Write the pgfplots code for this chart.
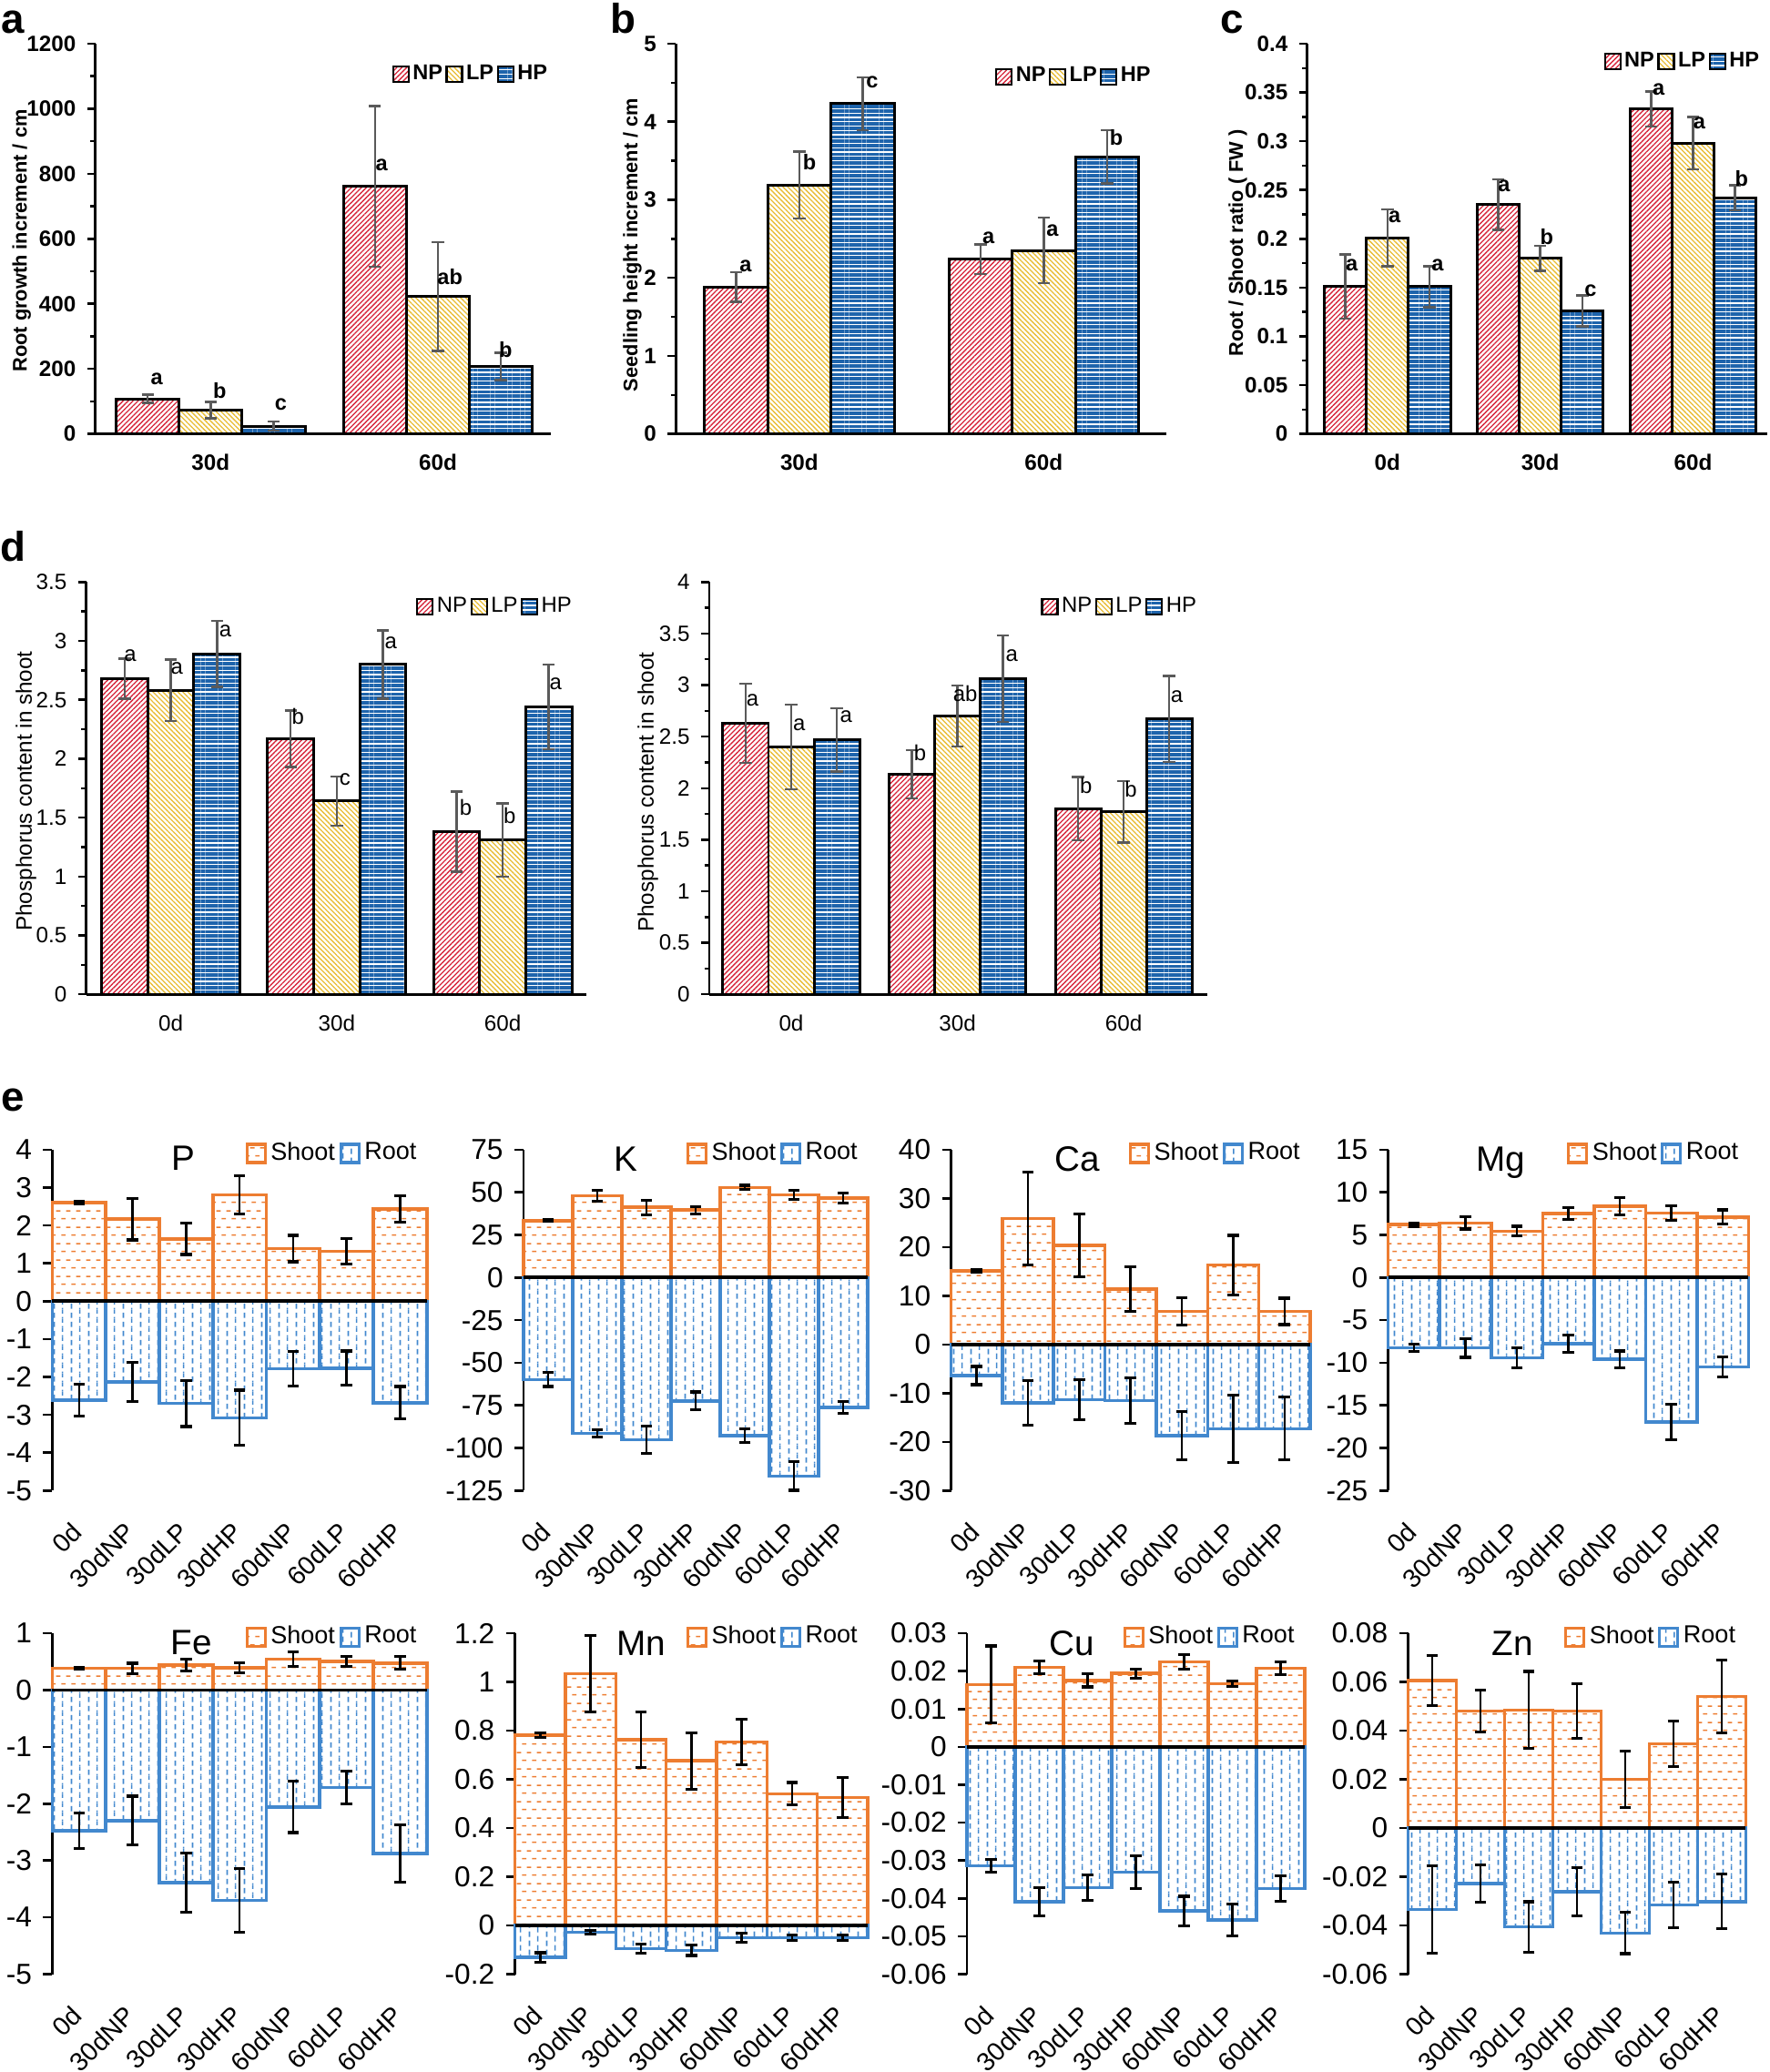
\documentclass[border=0pt]{standalone}
\usepackage{fontspec}
\setmainfont{Liberation Sans}
\usepackage{pgfplots}
\pgfplotsset{compat=1.18}
\usetikzlibrary{patterns,patterns.meta}

\definecolor{npred}{RGB}{214,36,58}
\definecolor{lpyel}{RGB}{232,188,52}
\definecolor{hpblue}{RGB}{30,100,172}
\definecolor{errgray}{RGB}{90,90,90}
\definecolor{eorange}{RGB}{237,125,49}
\definecolor{eblue}{RGB}{66,136,206}

% Excel-like dashed fills for panel e
\pgfdeclarepatternformonly{hdash}{\pgfqpoint{0pt}{0pt}}{\pgfqpoint{3.2pt}{5pt}}{\pgfqpoint{3.2pt}{5pt}}{%
  \pgfsetlinewidth{0.45pt}%
  \pgfpathmoveto{\pgfqpoint{0.1pt}{1.25pt}}\pgfpathlineto{\pgfqpoint{1.55pt}{1.25pt}}%
  \pgfpathmoveto{\pgfqpoint{1.7pt}{3.75pt}}\pgfpathlineto{\pgfqpoint{3.15pt}{3.75pt}}%
  \pgfusepath{stroke}}
\pgfdeclarepatternformonly{vdash}{\pgfqpoint{0pt}{0pt}}{\pgfqpoint{5.3pt}{2.8pt}}{\pgfqpoint{5.3pt}{2.8pt}}{%
  \pgfsetlinewidth{0.45pt}%
  \pgfpathmoveto{\pgfqpoint{1.3pt}{0.1pt}}\pgfpathlineto{\pgfqpoint{1.3pt}{1.8pt}}%
  \pgfpathmoveto{\pgfqpoint{3.95pt}{1.5pt}}\pgfpathlineto{\pgfqpoint{3.95pt}{2.8pt}}%
  \pgfpathmoveto{\pgfqpoint{3.95pt}{0pt}}\pgfpathlineto{\pgfqpoint{3.95pt}{0.4pt}}%
  \pgfusepath{stroke}}

\pgfplotsset{
  sqleg/.style={legend image code/.code={\draw[##1, line width=0.6pt] (0cm,-0.085cm) rectangle (0.17cm,0.085cm);}},
  np/.style={sqleg, draw=black, line width=0.85pt, pattern={Lines[angle=45,distance=1.1pt,line width=0.38pt]}, pattern color=npred},
  lp/.style={sqleg, draw=black, line width=0.85pt, pattern={Lines[angle=-45,distance=1.1pt,line width=0.38pt]}, pattern color=lpyel},
  hp/.style={sqleg, draw=black, line width=0.85pt, pattern={Lines[angle=0,distance=1.35pt,line width=0.98pt]}, pattern color=hpblue},
  eb/.style={error bars/y dir=both, error bars/y explicit,
    error bars/error bar style={line width=0.7pt, errgray},
    error bars/error mark options={rotate=90, mark size=1.9pt, line width=0.7pt, errgray}},
  grp/.style={scale only axis, anchor=south west, ybar, clip=false,
    axis x line*=bottom, axis y line*=left, axis line style={line width=0.75pt, -},
    tick align=outside, major tick length=0.09cm, minor tick length=0.055cm,
    tick style={black, line width=0.7pt}, xtick style={draw=none},
    minor y tick num=1, ymin=0,
    /pgf/number format/assume math mode=true, /pgf/number format/1000 sep={},
    scaled y ticks=false,
    yticklabel style={/pgf/number format/fixed, /pgf/number format/precision=2},
    xticklabel style={inner sep=0pt, yshift=-0.13cm},
    legend columns=3,
    legend style={draw=none, fill=none, inner sep=0pt, nodes={inner xsep=1pt},
      /tikz/every even column/.append style={column sep=0pt}}},
  boldtxt/.style={tick label style={font=\fontsize{6.9}{7}\selectfont\bfseries}, legend style={font=\fontsize{6.7}{7}\selectfont\bfseries}},
  regtxt/.style={tick label style={font=\fontsize{6.9}{7}\selectfont}, legend style={font=\fontsize{6.8}{7}\selectfont}},
  % panel e
  eleg/.style={legend image code/.code={\draw[##1, line width=0.9pt] (0cm,-0.1cm) rectangle (0.2cm,0.1cm);}},
  shoot/.style={eleg, bar shift=0pt, draw=eorange, line width=1pt, pattern=hdash, pattern color=eorange},
  root/.style={eleg, bar shift=0pt, draw=eblue, line width=1pt, pattern=vdash, pattern color=eblue},
  eb2/.style={error bars/y dir=both, error bars/y explicit,
    error bars/error bar style={line width=0.75pt, black},
    error bars/error mark options={rotate=90, mark size=1.8pt, line width=0.9pt, black}},
  elem/.style={scale only axis, anchor=south west, ybar, clip=false,
    xmin=-0.5, xmax=6.5, bar width=1,
    axis x line*=bottom, axis y line*=left, axis line style={line width=0.75pt, -},
    x axis line style={draw=none},
    tick align=outside, major tick length=0.1cm, tick style={black, line width=0.75pt}, xtick style={draw=none},
    xtick={0,...,6}, xticklabels={0d,30dNP,30dLP,30dHP,60dNP,60dLP,60dHP},
    xticklabel style={yshift=-0.30cm, xshift=-0.02cm, rotate=45, anchor=east, inner sep=0pt, font=\fontsize{8.1}{9}\selectfont},
    yticklabel style={font=\fontsize{9}{10}\selectfont, /pgf/number format/fixed, /pgf/number format/precision=2},
    /pgf/number format/assume math mode=true, scaled y ticks=false,
    legend columns=2,
    legend style={at={(1,0.989)}, anchor=east, xshift=-0.06cm, draw=none, fill=none, inner sep=0pt,
      nodes={inner xsep=1.3pt}, font=\fontsize{7.7}{8}\selectfont}},
}

\begin{document}
\begin{tikzpicture}
\tikzset{
  panel/.style={font=\fontsize{13}{13}\selectfont\bfseries, anchor=base, inner sep=0pt},
  ylab/.style={rotate=90, font=\fontsize{6.2}{7}\selectfont\bfseries, inner sep=0pt},
  ylabd/.style={rotate=90, font=\fontsize{6.9}{7}\selectfont, inner sep=0pt},
  lett/.style={font=\fontsize{6.7}{7}\selectfont\bfseries, inner sep=0pt},
  lettd/.style={font=\fontsize{6.8}{7}\selectfont, inner sep=0pt},
  etitle/.style={font=\fontsize{11}{11}\selectfont, anchor=base, inner sep=0pt},
}

% ---------- a ----------
\begin{axis}[grp, boldtxt, at={(1.048cm,-4.766cm)}, width=5.002cm, height=4.286cm,
  xmin=-0.507, xmax=1.497, ymax=1200, ytick={0,200,...,1200},
  xtick={0,1}, xticklabels={30d,60d}, bar width=0.277,
  legend style={at={(0.65,0.9215)}, anchor=west}]
\addplot[np, bar shift=-0.277, eb] coordinates {(0,108) +- (0,13) (1,761) +- (0,247)};
\addlegendentry{NP}
\addplot[lp, bar shift=0, eb] coordinates {(0,73) +- (0,25) (1,422) +- (0,167)};
\addlegendentry{LP}
\addplot[hp, bar shift=0.277, eb] coordinates {(0,24) +- (0,14) (1,208) +- (0,42)};
\addlegendentry{HP}
\node[lett] at (axis cs:-0.237,170) {a};
\node[lett] at (axis cs:0.04,132) {b};
\node[lett] at (axis cs:0.309,90) {c};
\node[lett] at (axis cs:0.752,827) {a};
\node[lett] at (axis cs:1.053,482) {ab};
\node[lett] at (axis cs:1.298,260) {b};
\end{axis}

% ---------- b ----------
\begin{axis}[grp, boldtxt, at={(7.423cm,-4.766cm)}, width=5.383cm, height=4.286cm,
  xmin=-0.505, xmax=1.5, ymax=5, ytick={0,...,5},
  xtick={0,1}, xticklabels={30d,60d}, bar width=0.259,
  legend style={at={(0.6506,0.915)}, anchor=west}]
\addplot[np, bar shift=-0.259, eb] coordinates {(0,1.88) +- (0,0.19) (1,2.24) +- (0,0.19)};
\addlegendentry{NP}
\addplot[lp, bar shift=0, eb] coordinates {(0,3.19) +- (0,0.43) (1,2.35) +- (0,0.42)};
\addlegendentry{LP}
\addplot[hp, bar shift=0.259, eb] coordinates {(0,4.23) +- (0,0.34) (1,3.55) +- (0,0.34)};
\addlegendentry{HP}
\node[lett] at (axis cs:-0.22,2.154) {a};
\node[lett] at (axis cs:0.042,3.478) {b};
\node[lett] at (axis cs:0.298,4.506) {c};
\node[lett] at (axis cs:0.774,2.51) {a};
\node[lett] at (axis cs:1.036,2.61) {a};
\node[lett] at (axis cs:1.297,3.80) {b};
\end{axis}

% ---------- c ----------
\begin{axis}[grp, boldtxt, at={(14.357cm,-4.766cm)}, width=5.053cm, height=4.286cm,
  xmin=-0.525, xmax=2.486, ymax=0.4, ytick={0,0.05,0.1,0.15,0.2,0.25,0.3,0.35,0.4},
  xtick={0,1,2}, xticklabels={0d,30d,60d}, bar width=0.2753,
  legend style={at={(0.6434,0.954)}, anchor=west}]
\addplot[np, bar shift=-0.2753, eb] coordinates {(0,0.151) +- (0,0.033) (1,0.235) +- (0,0.026) (2,0.333) +- (0,0.018)};
\addlegendentry{NP}
\addplot[lp, bar shift=0, eb] coordinates {(0,0.201) +- (0,0.029) (1,0.180) +- (0,0.013) (2,0.298) +- (0,0.027)};
\addlegendentry{LP}
\addplot[hp, bar shift=0.2753, eb] coordinates {(0,0.151) +- (0,0.021) (1,0.126) +- (0,0.016) (2,0.242) +- (0,0.013)};
\addlegendentry{HP}
\node[lett] at (axis cs:-0.233,0.1726) {a};
\node[lett] at (axis cs:0.047,0.222) {a};
\node[lett] at (axis cs:0.329,0.1726) {a};
\node[lett] at (axis cs:0.763,0.254) {a};
\node[lett] at (axis cs:1.043,0.2016) {b};
\node[lett] at (axis cs:1.33,0.1465) {c};
\node[lett] at (axis cs:1.774,0.3534) {a};
\node[lett] at (axis cs:2.042,0.3187) {a};
\node[lett] at (axis cs:2.318,0.262) {b};
\end{axis}

% ---------- d (left) ----------
\begin{axis}[grp, regtxt, at={(0.947cm,-10.922cm)}, width=5.492cm, height=4.529cm,
  xmin=-0.51, xmax=2.504, ymax=3.5, ytick={0,0.5,...,3.5},
  xtick={0,1,2}, xticklabels={0d,30d,60d}, bar width=0.278,
  legend style={at={(0.659,0.939)}, anchor=west}]
\addplot[np, bar shift=-0.278, eb] coordinates {(0,2.68) +- (0,0.17) (1,2.17) +- (0,0.24) (2,1.38) +- (0,0.34)};
\addlegendentry{NP}
\addplot[lp, bar shift=0, eb] coordinates {(0,2.58) +- (0,0.26) (1,1.64) +- (0,0.21) (2,1.31) +- (0,0.31)};
\addlegendentry{LP}
\addplot[hp, bar shift=0.278, eb] coordinates {(0,2.89) +- (0,0.28) (1,2.80) +- (0,0.29) (2,2.44) +- (0,0.36)};
\addlegendentry{HP}
\node[lettd] at (axis cs:-0.245,2.875) {a};
\node[lettd] at (axis cs:0.037,2.768) {a};
\node[lettd] at (axis cs:0.328,3.082) {a};
\node[lettd] at (axis cs:0.767,2.356) {b};
\node[lettd] at (axis cs:1.049,1.823) {c};
\node[lettd] at (axis cs:1.326,2.986) {a};
\node[lettd] at (axis cs:1.777,1.584) {b};
\node[lettd] at (axis cs:2.042,1.517) {b};
\node[lettd] at (axis cs:2.319,2.635) {a};
\end{axis}

% ---------- d (right) ----------
\begin{axis}[grp, regtxt, at={(7.79cm,-10.922cm)}, width=5.47cm, height=4.529cm,
  xmin=-0.493, xmax=2.504, ymax=4, ytick={0,0.5,...,4},
  xtick={0,1,2}, xticklabels={0d,30d,60d}, bar width=0.274,
  legend style={at={(0.665,0.939)}, anchor=west}]
\addplot[np, bar shift=-0.274, eb] coordinates {(0,2.63) +- (0,0.385) (1,2.135) +- (0,0.236) (2,1.80) +- (0,0.307)};
\addlegendentry{NP}
\addplot[lp, bar shift=0, eb] coordinates {(0,2.40) +- (0,0.41) (1,2.70) +- (0,0.297) (2,1.77) +- (0,0.297)};
\addlegendentry{LP}
\addplot[hp, bar shift=0.274, eb] coordinates {(0,2.47) +- (0,0.307) (1,3.063) +- (0,0.418) (2,2.67) +- (0,0.418)};
\addlegendentry{HP}
\node[lettd] at (axis cs:-0.233,2.853) {a};
\node[lettd] at (axis cs:0.048,2.616) {a};
\node[lettd] at (axis cs:0.33,2.692) {a};
\node[lettd] at (axis cs:0.775,2.342) {b};
\node[lettd] at (axis cs:1.047,2.92) {ab};
\node[lettd] at (axis cs:1.328,3.285) {a};
\node[lettd] at (axis cs:1.774,2.023) {b};
\node[lettd] at (axis cs:2.043,1.992) {b};
\node[lettd] at (axis cs:2.32,2.89) {a};
\end{axis}

% ---------- e : P ----------
\begin{axis}[elem, at={(0.575cm,-16.373cm)}, width=4.1125cm, height=3.744cm,
  ymin=-5, ymax=4, ytick={-5,...,4}]
\addplot[shoot, eb2] coordinates {(0,2.605) +- (0,0.03) (1,2.168) +- (0,0.55) (2,1.643) +- (0,0.41) (3,2.806) +- (0,0.50) (4,1.39) +- (0,0.35) (5,1.32) +- (0,0.33) (6,2.43) +- (0,0.35)};
\addlegendentry{Shoot}
\addplot[root, eb2] coordinates {(0,-2.614) +- (0,0.42) (1,-2.133) +- (0,0.51) (2,-2.70) +- (0,0.61) (3,-3.077) +- (0,0.73) (4,-1.783) +- (0,0.46) (5,-1.766) +- (0,0.45) (6,-2.684) +- (0,0.43)};
\addlegendentry{Root}
\draw[line width=1.1pt] (axis cs:-0.5,0) -- (axis cs:6.5,0);
\end{axis}

% ---------- e : K ----------
\begin{axis}[elem, at={(5.75cm,-16.373cm)}, width=3.78cm, height=3.744cm,
  ymin=-125, ymax=75, ytick={-125,-100,...,75}]
\addplot[shoot, eb2] coordinates {(0,33.4) +- (0,0.5) (1,48.0) +- (0,3.1) (2,41.2) +- (0,4.3) (3,39.6) +- (0,2.1) (4,52.8) +- (0,1.3) (5,48.5) +- (0,2.7) (6,46.6) +- (0,2.9)};
\addlegendentry{Shoot}
\addplot[root, eb2] coordinates {(0,-59.8) +- (0,4.1) (1,-91.5) +- (0,2) (2,-95.1) +- (0,8) (3,-72.4) +- (0,5.3) (4,-92.8) +- (0,3.9) (5,-116.5) +- (0,8.3) (6,-76.3) +- (0,3.6)};
\addlegendentry{Root}
\draw[line width=1.1pt] (axis cs:-0.5,0) -- (axis cs:6.5,0);
\end{axis}

% ---------- e : Ca ----------
\begin{axis}[elem, at={(10.445cm,-16.373cm)}, width=3.945cm, height=3.744cm,
  ymin=-30, ymax=40, ytick={-30,-20,...,40}]
\addplot[shoot, eb2] coordinates {(0,15.16) +- (0,0.3) (1,25.9) +- (0,9.5) (2,20.4) +- (0,6.45) (3,11.4) +- (0,4.6) (4,6.8) +- (0,2.8) (5,16.3) +- (0,6.1) (6,6.8) +- (0,2.7)};
\addlegendentry{Shoot}
\addplot[root, eb2] coordinates {(0,-6.39) +- (0,1.87) (1,-12.0) +- (0,4.6) (2,-11.35) +- (0,4.1) (3,-11.56) +- (0,4.65) (4,-18.7) +- (0,4.9) (5,-17.3) +- (0,6.9) (6,-17.3) +- (0,6.45)};
\addlegendentry{Root}
\draw[line width=1.1pt] (axis cs:-0.5,0) -- (axis cs:6.5,0);
\end{axis}

% ---------- e : Mg ----------
\begin{axis}[elem, at={(15.247cm,-16.373cm)}, width=3.957cm, height=3.744cm,
  ymin=-25, ymax=15, ytick={-25,-20,...,15}]
\addplot[shoot, eb2] coordinates {(0,6.21) +- (0,0.2) (1,6.41) +- (0,0.72) (2,5.44) +- (0,0.58) (3,7.5) +- (0,0.72) (4,8.35) +- (0,1.03) (5,7.57) +- (0,0.87) (6,7.1) +- (0,0.84)};
\addlegendentry{Shoot}
\addplot[root, eb2] coordinates {(0,-8.27) +- (0,0.43) (1,-8.27) +- (0,1.1) (2,-9.44) +- (0,1.17) (3,-7.77) +- (0,1.0) (4,-9.59) +- (0,0.97) (5,-16.97) +- (0,2.08) (6,-10.49) +- (0,1.18)};
\addlegendentry{Root}
\draw[line width=1.1pt] (axis cs:-0.5,0) -- (axis cs:6.5,0);
\end{axis}

% ---------- e : Fe ----------
\begin{axis}[elem, at={(0.575cm,-21.685cm)}, width=4.1125cm, height=3.745cm,
  ymin=-5, ymax=1, ytick={-5,...,1}]
\addplot[shoot, eb2] coordinates {(0,0.383) +- (0,0.01) (1,0.383) +- (0,0.09) (2,0.438) +- (0,0.1) (3,0.394) +- (0,0.09) (4,0.547) +- (0,0.13) (5,0.503) +- (0,0.09) (6,0.476) +- (0,0.11)};
\addlegendentry{Shoot}
\addplot[root, eb2] coordinates {(0,-2.478) +- (0,0.31) (1,-2.298) +- (0,0.43) (2,-3.392) +- (0,0.52) (3,-3.698) +- (0,0.56) (4,-2.057) +- (0,0.45) (5,-1.712) +- (0,0.29) (6,-2.877) +- (0,0.51)};
\addlegendentry{Root}
\draw[line width=1.1pt] (axis cs:-0.5,0) -- (axis cs:6.5,0);
\end{axis}

% ---------- e : Mn ----------
\begin{axis}[elem, at={(5.656cm,-21.685cm)}, width=3.874cm, height=3.745cm,
  ymin=-0.2, ymax=1.2, ytick={-0.2,0,0.2,0.4,0.6,0.8,1,1.2}]
\addplot[shoot, eb2] coordinates {(0,0.781) +- (0,0.01) (1,1.034) +- (0,0.156) (2,0.763) +- (0,0.113) (3,0.676) +- (0,0.116) (4,0.753) +- (0,0.093) (5,0.541) +- (0,0.046) (6,0.526) +- (0,0.082)};
\addlegendentry{Shoot}
\addplot[root, eb2] coordinates {(0,-0.131) +- (0,0.019) (1,-0.028) +- (0,0.008) (2,-0.095) +- (0,0.02) (3,-0.102) +- (0,0.021) (4,-0.051) +- (0,0.019) (5,-0.051) +- (0,0.011) (6,-0.051) +- (0,0.011)};
\addlegendentry{Root}
\draw[line width=1.1pt] (axis cs:-0.5,0) -- (axis cs:6.5,0);
\end{axis}

% ---------- e : Cu ----------
\begin{axis}[elem, at={(10.62cm,-21.685cm)}, width=3.708cm, height=3.745cm,
  ymin=-0.06, ymax=0.03, ytick={-0.06,-0.05,-0.04,-0.03,-0.02,-0.01,0,0.01,0.02,0.03}]
\addplot[shoot, eb2] coordinates {(0,0.01645) +- (0,0.0102) (1,0.02098) +- (0,0.0017) (2,0.01752) +- (0,0.0017) (3,0.01941) +- (0,0.0012) (4,0.02246) +- (0,0.0019) (5,0.0167) +- (0,0.0007) (6,0.02081) +- (0,0.0017)};
\addlegendentry{Shoot}
\addplot[root, eb2] coordinates {(0,-0.03142) +- (0,0.0017) (1,-0.04089) +- (0,0.0037) (2,-0.03718) +- (0,0.0033) (3,-0.03307) +- (0,0.0043) (4,-0.04335) +- (0,0.0039) (5,-0.04566) +- (0,0.0042) (6,-0.03743) +- (0,0.0033)};
\addlegendentry{Root}
\draw[line width=1.1pt] (axis cs:-0.5,0) -- (axis cs:6.5,0);
\end{axis}

% ---------- e : Zn ----------
\begin{axis}[elem, at={(15.465cm,-21.685cm)}, width=3.708cm, height=3.745cm,
  ymin=-0.06, ymax=0.08, ytick={-0.06,-0.04,-0.02,0,0.02,0.04,0.06,0.08}]
\addplot[shoot, eb2] coordinates {(0,0.0606) +- (0,0.0102) (1,0.0481) +- (0,0.0086) (2,0.0485) +- (0,0.0158) (3,0.0481) +- (0,0.0112) (4,0.02) +- (0,0.0115) (5,0.0345) +- (0,0.0094) (6,0.054) +- (0,0.015)};
\addlegendentry{Shoot}
\addplot[root, eb2] coordinates {(0,-0.0334) +- (0,0.018) (1,-0.0227) +- (0,0.0077) (2,-0.0406) +- (0,0.0103) (3,-0.0262) +- (0,0.01) (4,-0.0431) +- (0,0.0085) (5,-0.0315) +- (0,0.0094) (6,-0.0302) +- (0,0.0112)};
\addlegendentry{Root}
\draw[line width=1.1pt] (axis cs:-0.5,0) -- (axis cs:6.5,0);
\end{axis}

% panel letters, axis titles, element names
\node[panel] at (0.14,-0.37) {a};
\node[panel] at (6.84,-0.37) {b};
\node[panel] at (13.53,-0.37) {c};
\node[panel] at (0.14,-6.17) {d};
\node[panel] at (0.14,-12.2) {e};
\node[ylab] at (0.237,-2.645) {Root growth increment / cm};
\node[ylab] at (6.944,-2.69) {Seedling height increment / cm};
\node[ylab] at (13.594,-2.67) {Root / Shoot ratio ( FW )};
\node[ylabd] at (0.286,-8.69) {Phosphorus content in shoot};
\node[ylabd] at (7.116,-8.70) {Phosphorus content in shoot};
\node[etitle] at (2.016,-12.855) {P};
\node[etitle] at (6.87,-12.86) {K};
\node[etitle] at (11.83,-12.86) {Ca};
\node[etitle] at (16.485,-12.86) {Mg};
\node[etitle] at (2.10,-18.17) {Fe};
\node[etitle] at (7.04,-18.18) {Mn};
\node[etitle] at (11.77,-18.18) {Cu};
\node[etitle] at (16.61,-18.18) {Zn};

\pgfresetboundingbox
\path (0,0) rectangle (19.44,-22.76);
\end{tikzpicture}
\end{document}
